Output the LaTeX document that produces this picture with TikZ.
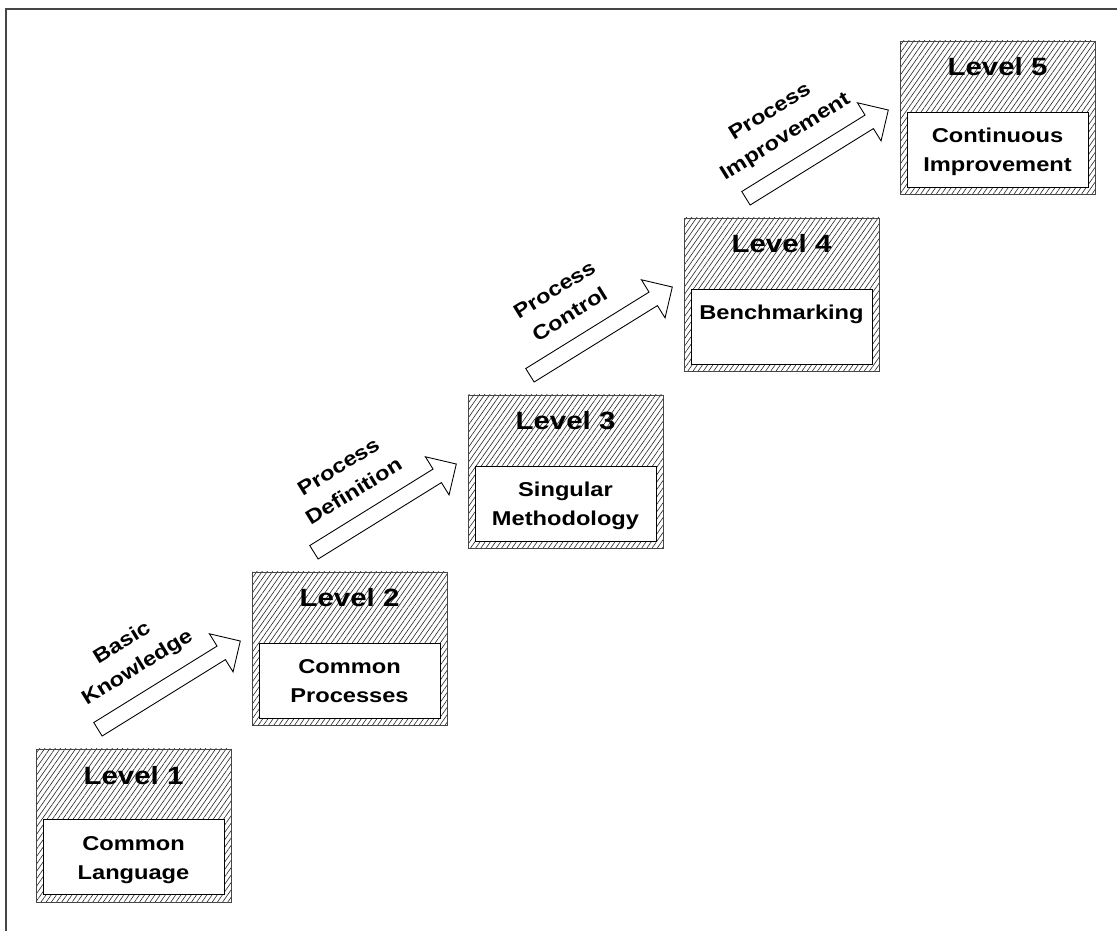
\documentclass[tikz,border=0pt]{standalone}
\usepackage{fontspec}
\setmainfont{Liberation Sans}[FakeStretch=1.18]
\usepackage{xcolor}
\usepackage{tikz}
\usetikzlibrary{positioning, calc, shapes.arrows, patterns.meta}
\definecolor{hatch_dark}{RGB}{40, 40, 40}
\definecolor{frame_gray}{RGB}{70, 70, 70}

\tikzset{
  levelbox/.style={rectangle, draw=frame_gray, line width=0.5pt,
    pattern={Lines[angle=55, distance=0.085cm, line width=0.35pt]}, pattern color=hatch_dark,
    minimum width=3.9cm, minimum height=3.06cm},
  stagebox/.style={rectangle, draw=black, line width=0.5pt, fill=white,
    minimum width=3.62cm, minimum height=1.5cm},
  leveltitle/.style={inner sep=0pt, font=\bfseries\fontsize{14.2pt}{17pt}\selectfont},
  stagetext/.style={inner sep=0pt, align=center, font=\bfseries\fontsize{11.4pt}{16.5pt}\selectfont},
  steparrow/.style={single arrow, draw=black, line width=0.5pt, fill=white, inner sep=0.15cm,
    minimum height=3.35cm, single arrow head extend=0.29cm, rotate=31.8},
  steplabel/.style={stagetext, rotate=31.8}
}

\begin{document}
\begin{tikzpicture}
  \useasboundingbox (0,0) rectangle (22.34,18.62);
  \draw[frame_gray, line width=1pt] (0.12,0) -- (0.12,18.44) -- (22.34,18.44);

  % levels
  \node[levelbox] (lvl1) at (2.67, 2.11) {};
  \node[stagebox, above=0.14cm of lvl1.south] (stage1) {};
  \node[leveltitle, below=0.34cm of lvl1.north] (title1) {Level 1};
  \node[stagetext, below=0.33cm of stage1.north] (text1) {Common\\Language};

  \node[levelbox] (lvl2) at (6.99, 5.65) {};
  \node[stagebox, above=0.14cm of lvl2.south] (stage2) {};
  \node[leveltitle, below=0.34cm of lvl2.north] (title2) {Level 2};
  \node[stagetext, below=0.33cm of stage2.north] (text2) {Common\\Processes};

  \node[levelbox] (lvl3) at (11.31, 9.19) {};
  \node[stagebox, above=0.14cm of lvl3.south] (stage3) {};
  \node[leveltitle, below=0.34cm of lvl3.north] (title3) {Level 3};
  \node[stagetext, below=0.33cm of stage3.north] (text3) {Singular\\Methodology};

  \node[levelbox] (lvl4) at (15.63, 12.73) {};
  \node[stagebox, above=0.14cm of lvl4.south] (stage4) {};
  \node[leveltitle, below=0.34cm of lvl4.north] (title4) {Level 4};
  \node[stagetext, below=0.33cm of stage4.north] (text4) {Benchmarking};

  \node[levelbox] (lvl5) at (19.95, 16.27) {};
  \node[stagebox, above=0.14cm of lvl5.south] (stage5) {};
  \node[leveltitle, below=0.34cm of lvl5.north] (title5) {Level 5};
  \node[stagetext, below=0.33cm of stage5.north] (text5) {Continuous\\Improvement};

  % steps between levels
  \node[steparrow] (arr12) at ($(lvl1)+(0.645,2.765)$) {};
  \node[steplabel] (lab12) at ($(arr12)+(138.8:0.95)$) {Basic\\Knowledge};
  \node[steparrow] (arr23) at ($(lvl2)+(0.645,2.765)$) {};
  \node[steplabel] (lab23) at ($(arr23)+(138.8:0.95)$) {Process\\Definition};
  \node[steparrow] (arr34) at ($(lvl3)+(0.645,2.765)$) {};
  \node[steplabel] (lab34) at ($(arr34)+(138.8:0.95)$) {Process\\Control};
  \node[steparrow] (arr45) at ($(lvl4)+(0.645,2.765)$) {};
  \node[steplabel] (lab45) at ($(arr45)+(138.8:0.95)$) {Process\\Improvement};
\end{tikzpicture}
\end{document}
